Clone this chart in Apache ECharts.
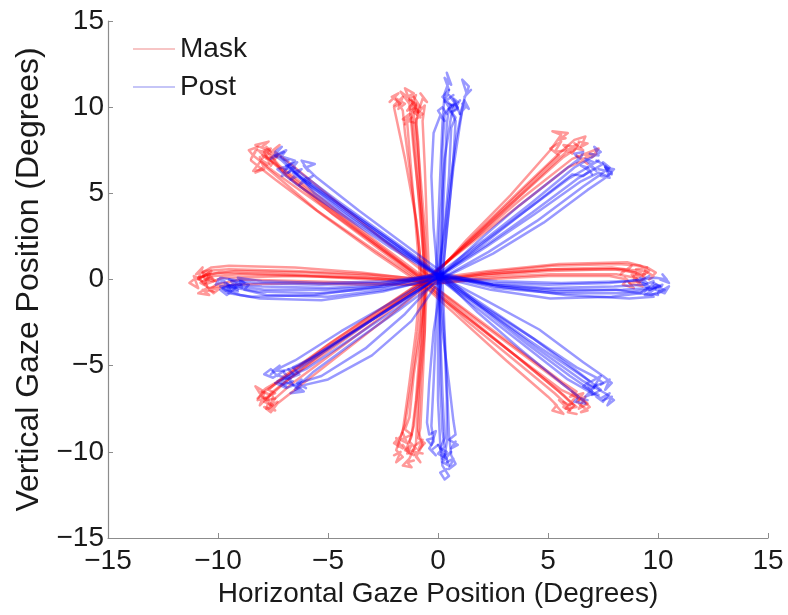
<!DOCTYPE html>
<html>
<head>
<meta charset="utf-8">
<title>Gaze trajectories</title>
<script src="https://cdn.jsdelivr.net/npm/echarts@6/dist/echarts.min.js"></script>
<style>
  html, body { margin: 0; padding: 0; background: #fff; }
  #chart { width: 788px; height: 615px; }
</style>
</head>
<body>
<div id="chart"></div>
<script>
// Axis ticks (degrees)
const xTicks = [-15, -10, -5, 0, 5, 10, 15];
const yTicks = [-15, -10, -5, 0, 5, 10, 15];

// Condition names
const conditions = ['Mask', 'Post'];

// Gaze trajectories, one array per target direction and condition.
// Each trajectory is a list of [horizontal, vertical] gaze positions in degrees:
// the saccade from the centre, then the fixation wander around the target.
const maskUp = [
  [[-0.6,-0.2],[-0.7,2],[-0.9,5],[-1.1,8],[-1.2,9.6],[-1.0,10.1],[-1.4,9.8],[-1.1,10.3],[-1.3,10.0],[-0.9,9.7],[-1.2,10.4]],
  [[-0.5,0],[-0.6,3],[-0.8,6],[-1.0,9],[-0.9,9.9],[-1.3,10.4],[-0.8,10.0],[-1.1,10.6],[-0.9,10.2],[-1.2,9.8]],
  [[-0.7,-0.3],[-0.9,2.5],[-1.2,5.5],[-1.5,8.5],[-1.6,9.8],[-1.9,10.5],[-1.5,10.2],[-1.8,9.9],[-1.6,10.6],[-2.0,10.1]],
  [[-0.4,0.1],[-0.5,3],[-0.6,6.5],[-0.7,9.2],[-0.6,10.1],[-0.9,9.7],[-0.7,10.5],[-0.5,10.3],[-0.8,10.8]],
  [[-0.8,-0.1],[-1.0,3],[-1.2,6],[-1.4,9.1],[-1.2,9.4],[-1.5,9.0],[-1.3,9.6],[-1.6,9.3],[-1.1,9.1]],
  [[-0.6,0.2],[-0.8,4],[-1.1,7.5],[-1.3,10.2],[-1.7,10.9],[-1.4,10.6],[-1.1,10.8],[-1.5,11.1],[-1.3,10.4]],
  [[-0.5,-0.2],[-0.6,2],[-0.8,5],[-0.9,8],[-1.0,9.3],[-0.7,9.6],[-1.0,9.9],[-0.8,9.4],[-1.1,9.7]],
  [[-0.7,0],[-1.0,3.5],[-1.5,7],[-1.9,9.4],[-2.0,10.0],[-1.7,10.2],[-2.1,10.6],[-1.8,10.8],[-2.2,10.3]],
  [[-0.6,-0.1],[-0.7,3],[-0.9,6.5],[-1.1,9.5],[-1.0,10.2],[-1.3,10.5],[-1.0,10.7],[-1.2,10.1]]
];
const postUp = [
  [[0.1,0.2],[0.2,3],[0.3,6],[0.4,9],[0.5,10],[0.3,10.4],[0.6,9.8],[0.4,10.2],[0.7,10.1],[0.5,9.7]],
  [[0,0.3],[0.1,3.5],[0.3,7],[0.6,9.5],[0.8,10.3],[0.5,10.7],[0.9,10.0],[0.7,9.8],[1.0,10.4]],
  [[0.2,0.1],[0.4,3],[0.7,6.5],[1.0,9],[1.1,9.8],[1.3,10.1],[1.0,9.6],[1.2,10.4],[1.4,9.9],[1.1,10.2]],
  [[-0.1,0.2],[0,3],[0.1,6],[0.2,9],[0.3,10.8],[0.5,11.5],[0.4,12.0],[0.6,11.3],[0.3,11.7],[0.5,11.0]],
  [[0.1,0.4],[0.4,4],[0.8,8],[1.2,10.5],[1.4,11.2],[1.1,11.6],[1.3,10.8],[1.5,11.0],[1.2,10.6]],
  [[0,0],[-0.2,3],[-0.3,6],[-0.2,8.5],[0.1,9.5],[0.3,9.2],[0.0,9.8],[0.2,10.0],[0.4,9.6]],
  [[0.2,0.3],[0.5,4],[0.7,7],[0.8,9.2],[0.6,9.7],[0.9,9.9],[0.7,10.5],[0.9,10.3],[0.6,10.1]],
  [[0.1,0.1],[0.2,3.5],[0.2,7.5],[0.3,9.6],[0.6,10.1],[0.2,10.6],[0.5,11.0],[0.3,10.3],[0.7,10.7]],
  [[0,0.2],[0.3,3],[0.5,6],[0.6,8.8],[0.8,9.4],[0.5,9.9],[0.8,10.2],[1.0,9.6]]
];
const maskUpLeft = [
  [[-0.6,-0.2],[-2.5,1.6],[-4.8,3.8],[-7,6.2],[-7.8,7.1],[-8.1,7.4],[-7.6,7.6],[-8.0,7.0],[-7.7,7.3],[-8.2,7.5]],
  [[-0.5,0],[-2.6,2],[-5,4.4],[-7.2,6.6],[-7.9,7.6],[-8.3,7.8],[-7.7,8.0],[-8.0,7.7],[-7.6,7.4]],
  [[-0.7,-0.3],[-2.8,1.5],[-5.2,3.7],[-7.4,5.8],[-8.2,6.6],[-8.5,6.9],[-8.0,6.4],[-8.4,6.3],[-8.1,6.8]],
  [[-0.4,0.2],[-2.4,2.2],[-4.6,4.5],[-6.8,6.8],[-7.5,7.5],[-7.2,7.8],[-7.6,7.3],[-7.3,7.1],[-7.8,7.7]],
  [[-0.6,0],[-2.7,1.9],[-5.1,4.1],[-7.5,6.3],[-8.4,7.2],[-8.6,7.5],[-8.2,7.7],[-8.5,7.0],[-8.3,7.4]],
  [[-0.8,-0.1],[-3,1.8],[-5.5,4],[-7.8,6.5],[-8.0,6.9],[-7.7,6.7],[-8.3,6.2],[-7.9,6.4],[-8.1,7.1]],
  [[-0.5,-0.2],[-2.5,1.7],[-4.7,3.9],[-6.9,6.0],[-7.4,6.8],[-7.8,7.0],[-7.3,7.2],[-7.6,6.6],[-7.9,7.4]],
  [[-0.6,-0.1],[-2.6,1.9],[-4.9,4.1],[-7.1,6.4],[-7.7,7.0],[-8.0,7.2],[-7.5,7.0]]
];
const postUpLeft = [
  [[0.1,0.2],[-2,2],[-4,3.8],[-6,5.6],[-6.6,6.3],[-6.9,6.6],[-6.4,6.8],[-6.8,6.2],[-6.5,6.5],[-7.0,6.4]],
  [[0,0.3],[-2.2,2.3],[-4.4,4.3],[-6.5,6.2],[-7.1,6.9],[-7.4,7.2],[-6.9,7.5],[-7.2,7.0],[-6.8,6.9]],
  [[0.2,0.1],[-1.8,1.7],[-3.8,3.4],[-5.6,5.0],[-6.1,5.7],[-5.7,6.0],[-6.3,5.5],[-6.0,5.9],[-5.8,5.6]],
  [[0.1,0.3],[-2.3,2.5],[-4.6,4.6],[-6.8,6.7],[-7.4,7.4],[-7.1,7.7],[-7.6,7.0],[-7.3,7.2],[-7.0,7.4]],
  [[0,0.2],[-1.9,1.8],[-3.9,3.6],[-5.8,5.4],[-6.4,6.0],[-6.7,5.8],[-6.2,6.4],[-6.6,6.2],[-6.3,5.9]],
  [[0.2,0.4],[-1.7,2.2],[-3.6,4.0],[-5.5,5.9],[-6.0,6.5],[-5.6,6.7],[-6.2,6.9],[-5.9,6.3],[-6.1,6.6]],
  [[0.1,0.1],[-2.1,1.8],[-4.3,3.7],[-6.4,5.5],[-7.0,6.1],[-7.3,6.4],[-6.8,6.6],[-7.1,6.0],[-6.7,6.3]],
  [[0,0.2],[-2.0,2.1],[-4.1,4.0],[-6.2,5.9],[-6.8,6.6],[-6.5,6.9],[-7.0,7.1]]
];
const maskLeft = [
  [[-0.6,-0.2],[-3,0],[-6,0.2],[-9,0.3],[-10.2,0.2],[-10.6,-0.2],[-10.3,0.5],[-10.8,0.1],[-10.5,0.3],[-10.1,-0.1]],
  [[-0.5,0],[-3.2,0.3],[-6.5,0.5],[-9.5,0.6],[-10.6,0.5],[-11.0,0.3],[-10.7,0.7],[-10.9,0.0],[-10.4,0.4]],
  [[-0.7,-0.3],[-3,-0.2],[-6,-0.1],[-9,0],[-10.1,-0.3],[-10.4,-0.6],[-9.9,-0.5],[-10.2,-0.8],[-10.5,-0.4]],
  [[-0.6,-0.1],[-3.5,0.1],[-7,0.3],[-10,0.4],[-11.0,0.1],[-11.3,-0.2],[-10.9,-0.5],[-11.1,0.2],[-10.7,-0.1]],
  [[-0.5,-0.2],[-3,0.2],[-6,0.4],[-9.2,0.5],[-10.4,0.3],[-10.2,-0.1],[-10.6,0],[-10.3,0.2],[-10.7,0.4]],
  [[-0.8,0],[-3.5,0.4],[-6.5,0.7],[-9.5,0.8],[-10.3,0.7],[-10.7,0.4],[-10.5,-0.4],[-10.8,-0.2],[-10.4,0.1]],
  [[-0.6,-0.3],[-3.2,-0.3],[-6.3,-0.2],[-9.4,-0.3],[-10.5,-0.5],[-10.9,-0.8],[-10.4,-0.9],[-10.7,-0.6],[-10.2,-0.7]],
  [[-0.7,-0.1],[-3.3,0.1],[-6.6,0.2],[-9.8,0.1],[-10.6,-0.3],[-10.9,0.1],[-10.5,0.2]]
];
const postLeft = [
  [[0.1,0.2],[-2.5,-0.3],[-5,-0.5],[-8,-0.4],[-9.0,-0.3],[-9.4,-0.1],[-9.1,-0.6],[-9.6,-0.4],[-9.3,-0.3],[-9.8,-0.5]],
  [[0,0.3],[-2.5,-0.5],[-5.5,-0.8],[-8.2,-0.7],[-9.2,-0.5],[-9.7,-0.2],[-9.4,-0.7],[-9.9,-0.4],[-9.5,-0.3]],
  [[0.2,0.1],[-2.4,-0.6],[-5,-1.0],[-7.8,-0.9],[-8.8,-0.6],[-8.6,-0.3],[-9.0,-0.1],[-8.9,-0.5],[-9.2,-0.3]],
  [[0,0.2],[-2.6,-0.2],[-5.4,-0.3],[-8.3,-0.2],[-9.4,0],[-9.9,0.1],[-10.1,-0.3],[-9.7,-0.1],[-10.0,0.0]],
  [[0.1,0.4],[-2.7,-0.4],[-5.6,-0.9],[-8.5,-1.0],[-9.5,-0.8],[-9.8,-0.5],[-9.3,-0.3],[-9.6,-0.6],[-9.1,-0.7]],
  [[0.2,0.3],[-2.3,-0.1],[-5.2,-0.2],[-8.0,-0.1],[-9.1,0.1],[-8.8,-0.2],[-9.3,-0.4],[-9.0,-0.2],[-9.5,0.0]],
  [[0,0.1],[-2.5,-0.7],[-5.3,-1.2],[-8.1,-1.1],[-9.0,-0.9],[-9.5,-0.7],[-9.9,-0.6],[-9.6,-0.9],[-9.2,-0.5]],
  [[0.1,0.2],[-2.4,-0.4],[-5.1,-0.6],[-7.9,-0.6],[-9.0,-0.4],[-9.4,-0.5],[-9.6,-0.2]]
];
const maskDownLeft = [
  [[-0.6,-0.2],[-2.5,-1.9],[-4.6,-3.8],[-6.8,-5.8],[-7.6,-6.7],[-7.9,-7.1],[-7.5,-7.3],[-8.0,-6.8],[-7.7,-7.0],[-7.8,-7.5]],
  [[-0.5,-0.1],[-2.4,-2.0],[-4.5,-4.0],[-6.6,-6.0],[-7.4,-6.9],[-7.7,-7.5],[-7.3,-7.1],[-7.6,-7.3],[-7.5,-6.8]],
  [[-0.7,-0.3],[-2.7,-2.0],[-4.9,-3.9],[-7.0,-5.7],[-7.8,-6.3],[-8.1,-6.6],[-8.3,-6.2],[-7.9,-6.5],[-8.2,-6.9]],
  [[-0.6,0],[-2.6,-1.7],[-4.8,-3.6],[-7.0,-5.6],[-7.7,-6.4],[-7.4,-6.6],[-7.9,-6.9],[-7.6,-6.7],[-8.0,-6.5]],
  [[-0.5,-0.3],[-2.3,-2.2],[-4.3,-4.2],[-6.4,-6.3],[-7.3,-7.2],[-7.6,-7.7],[-7.9,-7.4],[-7.4,-7.6],[-7.7,-7.2]],
  [[-0.8,-0.2],[-2.8,-1.9],[-5.0,-3.8],[-7.2,-5.9],[-8.0,-6.6],[-8.2,-7.0],[-7.8,-6.9],[-8.1,-7.3],[-7.9,-6.6]],
  [[-0.6,-0.1],[-2.5,-1.8],[-4.7,-3.7],[-6.9,-5.9],[-7.6,-6.6],[-7.8,-7.0],[-7.4,-6.9]]
];
const postDownLeft = [
  [[0.1,0.2],[-2,-1.5],[-4,-3.2],[-6,-4.9],[-6.8,-5.6],[-7.1,-5.9],[-6.6,-6.1],[-7.0,-5.4],[-6.7,-5.8],[-7.2,-5.6]],
  [[0,0.3],[-2.2,-1.4],[-4.4,-3.0],[-6.5,-4.7],[-7.3,-5.2],[-7.6,-5.5],[-7.2,-5.0],[-7.5,-5.3],[-7.0,-5.3]],
  [[0.2,0.1],[-1.8,-1.8],[-3.8,-3.6],[-5.7,-5.4],[-6.4,-6.2],[-6.1,-6.5],[-6.7,-6.6],[-6.3,-6.4],[-6.6,-6.1]],
  [[0.1,0.2],[-1.5,-2.0],[-3.3,-4.0],[-5.3,-5.6],[-6.3,-6.0],[-6.9,-6.3],[-7.4,-6.0],[-7.0,-6.1],[-6.6,-5.9]],
  [[0,0.1],[-2.1,-1.6],[-4.2,-3.3],[-6.3,-5.0],[-7.0,-5.3],[-7.5,-5.7],[-7.9,-5.5],[-7.6,-5.2],[-7.3,-5.6]],
  [[0.2,0.3],[-1.7,-1.3],[-3.7,-2.9],[-5.8,-4.6],[-6.6,-5.1],[-6.3,-5.5],[-6.9,-5.8],[-6.5,-5.6],[-6.8,-5.2]],
  [[0.1,0],[-1.2,-2.4],[-3.0,-4.4],[-5.0,-5.8],[-6.0,-6.1],[-6.5,-6.4],[-6.2,-5.8],[-6.4,-6.0],[-6.0,-6.3]],
  [[0,0.2],[-1.9,-1.7],[-3.9,-3.4],[-6.0,-5.2],[-6.9,-5.7],[-7.3,-5.9],[-6.9,-6.2]]
];
const maskDown = [
  [[-0.6,-0.2],[-0.7,-3],[-0.9,-6],[-1.1,-8.5],[-1.3,-9.4],[-1.0,-9.8],[-1.4,-10.1],[-1.2,-9.6],[-1.5,-9.9],[-1.1,-10.2]],
  [[-0.5,-0.1],[-0.6,-3],[-0.8,-6],[-0.9,-8.8],[-0.7,-9.6],[-1.0,-10.3],[-0.8,-10.6],[-1.1,-10.0],[-0.7,-10.1]],
  [[-0.7,-0.3],[-0.9,-3],[-1.2,-6],[-1.5,-8.4],[-1.7,-9.1],[-2.0,-9.5],[-1.6,-9.8],[-1.9,-9.2],[-1.8,-9.7]],
  [[-0.6,0],[-0.7,-3.5],[-0.9,-7],[-1.0,-9.5],[-1.3,-10.4],[-1.6,-10.8],[-1.2,-10.9],[-1.4,-10.6],[-1.1,-10.5]],
  [[-0.5,-0.3],[-0.8,-3],[-1.1,-5.5],[-1.3,-8],[-1.5,-8.7],[-1.2,-9.0],[-1.7,-9.3],[-1.4,-9.5],[-1.6,-8.9]],
  [[-0.8,-0.2],[-1.0,-3],[-1.3,-6],[-1.6,-8.8],[-1.9,-9.9],[-1.6,-10.3],[-1.9,-10.6],[-1.7,-10.0],[-2.0,-10.2]],
  [[-0.6,-0.1],[-0.6,-3],[-0.7,-6],[-0.8,-8.6],[-0.9,-9.2],[-0.6,-9.5],[-0.9,-9.9],[-0.7,-9.3],[-1.0,-9.6]],
  [[-0.7,-0.2],[-0.8,-3.5],[-1.0,-7],[-1.2,-9.1],[-1.4,-9.7],[-1.3,-10.1],[-1.6,-9.6]]
];
const postDown = [
  [[0.1,0.2],[0.1,-3],[0.1,-6],[0.2,-8.8],[0.3,-9.7],[0.0,-10.1],[0.4,-10.4],[0.1,-9.9],[0.3,-10.2],[0.0,-9.6]],
  [[0,0.3],[-0.1,-3],[-0.2,-6],[-0.3,-8.5],[-0.2,-9.4],[-0.4,-9.8],[-0.1,-10.2],[-0.3,-9.9],[0.0,-9.6]],
  [[0.2,0.1],[0.3,-3],[0.4,-6],[0.5,-9],[0.6,-10.2],[0.8,-10.7],[0.5,-11.0],[0.7,-10.4],[0.4,-10.6]],
  [[0.1,0.2],[0.0,-3.5],[0.0,-7],[0.1,-9.5],[0.2,-10.8],[0.5,-11.4],[0.3,-11.6],[0.1,-11.2],[0.4,-11.0]],
  [[0,0.1],[0.2,-3],[0.5,-6],[0.7,-8.2],[0.8,-9.0],[0.5,-9.3],[0.9,-9.6],[0.6,-9.8],[0.8,-9.4]],
  [[0.2,0.3],[-0.2,-3],[-0.4,-6],[-0.5,-8.3],[-0.4,-9.0],[-0.1,-8.8],[-0.3,-9.6],[-0.5,-9.3],[-0.2,-9.2]],
  [[0.1,0],[0.3,-3.5],[0.4,-7],[0.4,-9.4],[0.3,-10.3],[0.6,-10.0],[0.2,-10.6],[0.5,-10.8],[0.3,-10.1]],
  [[0,0.2],[0.1,-3],[0.2,-6.5],[0.3,-9.2],[0.1,-9.8],[0.4,-10.0],[0.2,-10.4]]
];
const maskDownRight = [
  [[-0.6,-0.2],[1.4,-2.3],[3.5,-4.4],[5.5,-6.5],[6.0,-7.1],[6.3,-7.4],[5.8,-7.5],[6.2,-6.9],[6.0,-7.3],[5.7,-7.1]],
  [[-0.5,-0.1],[1.6,-2.2],[3.8,-4.3],[5.9,-6.3],[6.5,-6.9],[6.8,-7.2],[6.4,-7.5],[6.7,-6.8],[6.3,-7.1]],
  [[-0.7,-0.3],[1.2,-2.5],[3.1,-4.7],[5.0,-6.8],[5.4,-7.3],[5.2,-7.6],[5.7,-7.8],[5.5,-7.5],[5.3,-7.2]],
  [[-0.6,0],[1.5,-2.0],[3.6,-4.0],[5.7,-6.0],[6.3,-6.5],[6.0,-6.8],[6.6,-6.6],[6.4,-7.0],[6.1,-6.5]],
  [[-0.5,-0.3],[1.3,-2.4],[3.3,-4.5],[5.3,-6.6],[5.8,-7.2],[5.5,-7.0],[6.0,-7.6],[5.7,-7.4],[6.1,-7.2]],
  [[-0.8,-0.2],[1.3,-2.2],[3.4,-4.3],[5.6,-6.4],[6.6,-7.0],[6.9,-7.4],[6.5,-7.7],[6.8,-7.6],[6.4,-7.2]],
  [[-0.6,-0.1],[1.5,-2.3],[3.6,-4.5],[5.7,-6.7],[6.2,-7.3],[5.9,-7.7],[6.3,-7.8]]
];
const postDownRight = [
  [[0.1,0.2],[2,-1.7],[4,-3.7],[6,-5.6],[6.8,-6.3],[7.1,-6.6],[6.7,-6.8],[7.2,-6.1],[6.9,-6.5],[7.3,-6.7]],
  [[0,0.3],[2.1,-1.5],[4.2,-3.3],[6.3,-5.1],[7.2,-5.7],[7.5,-6.0],[7.1,-6.2],[7.4,-5.6],[7.0,-5.9]],
  [[0.2,0.1],[1.8,-1.9],[3.7,-4.0],[5.6,-6.0],[6.4,-6.8],[6.2,-7.1],[6.7,-7.2],[6.5,-6.9],[6.8,-7.0]],
  [[0.1,0.2],[2.3,-1.3],[4.6,-2.9],[6.6,-4.8],[7.5,-5.6],[7.9,-6.0],[7.6,-6.4],[7.8,-5.8],[7.4,-6.1]],
  [[0,0.1],[1.9,-1.8],[3.9,-3.8],[5.9,-5.8],[7.0,-6.6],[7.4,-6.9],[7.8,-6.6],[7.5,-7.1],[7.2,-6.8]],
  [[0.2,0.3],[2.0,-1.6],[4.1,-3.5],[6.2,-5.3],[6.9,-5.9],[6.6,-6.2],[7.0,-6.5],[6.8,-6.1],[7.1,-6.3]],
  [[0.1,0],[2.2,-1.8],[4.4,-3.9],[6.6,-5.9],[7.6,-6.6],[8.0,-7.0],[7.7,-7.3],[7.9,-6.8],[7.5,-7.0]],
  [[0,0.2],[2.1,-1.6],[4.3,-3.4],[6.4,-5.4],[7.1,-6.1],[7.4,-6.4],[7.0,-6.7]]
];
const maskRight = [
  [[-0.6,-0.2],[2,0.2],[5,0.5],[8,0.6],[9.0,0.4],[9.4,0.1],[9.1,-0.2],[8.8,0.3],[9.2,0.2],[8.9,0.0]],
  [[-0.5,-0.1],[2.2,0.4],[5.2,0.8],[8.2,0.9],[9.2,0.8],[9.6,0.5],[9.3,0.2],[9.5,0.7],[9.0,0.6]],
  [[-0.7,-0.3],[2,0],[5,0.2],[7.8,0.2],[8.6,0.0],[8.4,-0.3],[8.9,-0.5],[8.7,-0.2],[8.5,0.1]],
  [[-0.6,0],[2.3,0.5],[5.5,0.9],[8.6,1.0],[9.5,0.7],[9.9,0.4],[9.6,0.0],[9.8,0.2],[9.4,0.5]],
  [[-0.5,-0.3],[2.1,0.1],[5.1,0.3],[8.1,0.3],[9.0,0.1],[9.3,-0.4],[8.7,-0.2],[9.1,-0.1],[8.9,0.2]],
  [[-0.8,-0.2],[2.0,0.3],[5.0,0.6],[7.9,0.7],[8.5,0.6],[8.3,0.3],[8.8,0.8],[8.6,0.5],[9.0,0.4]],
  [[-0.6,-0.1],[2.1,0.3],[5.3,0.6],[8.4,0.6],[9.3,0.5],[9.0,0.3],[9.4,0.3]]
];
const postRight = [
  [[0.1,0.2],[2.5,-0.3],[5,-0.5],[8,-0.4],[9.4,-0.3],[9.8,-0.1],[9.6,-0.6],[10.1,-0.4],[9.9,-0.3],[9.5,-0.5]],
  [[0,0.3],[2.6,-0.5],[5.4,-0.8],[8.3,-0.8],[9.6,-0.6],[10.2,-0.3],[10.0,-0.8],[10.3,-0.6],[9.8,-0.4]],
  [[0.2,0.1],[2.4,-0.6],[5.1,-1.1],[7.9,-1.0],[9.2,-0.8],[9.5,-0.5],[9.3,-0.2],[9.6,-0.4],[9.4,-0.7]],
  [[0,0.2],[2.7,-0.1],[5.6,-0.2],[8.6,-0.1],[9.9,0.1],[10.4,0.0],[10.2,0.3],[10.5,-0.2],[10.1,0.0]],
  [[0.1,0.4],[2.5,-0.3],[5.3,-0.6],[8.1,-0.6],[9.7,-0.9],[10.1,-0.7],[10.5,-0.4],[10.3,-0.8],[9.9,-0.6]],
  [[0.2,0.3],[2.8,-0.4],[5.8,-0.9],[8.7,-1.1],[9.8,-1.0],[9.4,-0.9],[9.9,-0.5],[9.6,-0.8],[10.0,-0.9]],
  [[0,0.1],[2.4,-0.2],[5.0,-0.3],[7.8,-0.2],[9.3,0.0],[9.6,0.2],[9.1,-0.1],[9.5,-0.2],[9.2,0.1]],
  [[0.1,0.2],[2.6,-0.4],[5.4,-0.7],[8.4,-0.6],[9.7,-0.5],[10.1,-0.4],[9.8,-0.2]]
];
const maskUpRight = [
  [[-0.6,-0.2],[1.4,2.2],[3.5,4.6],[5.4,6.9],[6.0,7.6],[6.4,7.9],[6.1,7.3],[5.7,7.8],[6.2,7.7],[5.9,7.4]],
  [[-0.5,-0.1],[1.5,2.4],[3.6,5.0],[5.5,7.3],[6.2,8.1],[6.7,8.3],[6.5,7.7],[6.8,7.9],[6.4,8.0]],
  [[-0.7,-0.3],[1.2,2.0],[3.2,4.4],[5.0,6.6],[5.5,7.2],[5.1,7.6],[5.6,8.0],[5.3,7.4],[5.8,7.5]],
  [[-0.6,0],[1.6,2.3],[3.9,4.8],[6.1,7.0],[6.9,7.4],[7.3,7.6],[7.0,7.1],[7.2,7.3],[6.7,7.2]],
  [[-0.5,-0.3],[1.3,2.3],[3.3,4.9],[5.1,7.5],[5.6,8.4],[5.2,8.6],[5.9,8.5],[5.5,8.1],[5.8,8.2]],
  [[-0.8,-0.2],[1.4,2.0],[3.7,4.3],[5.9,6.5],[6.6,6.9],[6.3,7.2],[6.8,6.7],[6.5,7.0],[6.9,7.1]],
  [[-0.6,-0.1],[1.5,2.2],[3.6,4.7],[5.7,7.1],[6.3,7.6],[6.6,7.5],[6.2,7.9]]
];
const postUpRight = [
  [[0.1,0.2],[2,2],[4,4],[6,5.9],[6.8,6.5],[7.1,6.8],[6.7,7.0],[7.2,6.3],[6.9,6.6],[7.3,6.9]],
  [[0,0.3],[2.1,2.3],[4.2,4.4],[6.2,6.5],[7.0,7.1],[7.4,7.4],[7.1,7.7],[7.3,7.2],[6.9,7.3]],
  [[0.2,0.1],[2.3,1.6],[4.5,3.4],[6.6,5.4],[7.4,6.1],[7.8,6.5],[7.5,6.8],[7.7,6.3],[7.3,6.4]],
  [[0.1,0.2],[1.8,2.2],[3.7,4.3],[5.7,6.3],[6.4,7.0],[6.2,7.3],[6.6,7.4],[6.5,7.1],[6.3,6.8]],
  [[0,0.1],[2.2,1.9],[4.4,3.8],[6.5,5.7],[7.3,6.2],[7.7,6.0],[8.0,6.4],[7.6,6.5],[7.9,6.1]],
  [[0.2,0.3],[2.0,2.1],[4.1,4.1],[6.1,6.1],[6.6,6.0],[6.9,6.3],[6.5,6.6],[6.8,6.5],[7.0,6.1]],
  [[0.1,0],[2.5,1.5],[4.8,3.3],[6.8,5.2],[7.5,5.8],[7.9,6.2],[7.6,6.6],[7.8,5.9],[7.4,6.0]],
  [[0,0.2],[2.2,2.0],[4.3,3.9],[6.4,5.9],[7.1,6.4],[7.5,6.7],[7.2,6.9]]
];

const maskGroups = [maskUp, maskUpLeft, maskLeft, maskDownLeft, maskDown, maskDownRight, maskRight, maskUpRight];
const postGroups = [postUp, postUpLeft, postLeft, postDownLeft, postDown, postDownRight, postRight, postUpRight];

const maskColor = 'rgba(255,0,0,0.4)';
const postColor = 'rgba(0,0,255,0.4)';

function traceSeries(name, groups, color) {
  const out = [];
  groups.forEach(function (group) {
    group.forEach(function (trace) {
      out.push({
        name: name,
        type: 'line',
        data: trace,
        showSymbol: false,
        symbol: 'none',
        smooth: false,
        silent: true,
        color: color,
        lineStyle: { color: color, width: 2.5, join: 'round', cap: 'round' },
        z: 2
      });
    });
  });
  return out;
}

const textColor = '#1a1a1a';
const axisColor = '#8c8c8c';
const fontFamily = '"Liberation Sans", Arial, Helvetica, sans-serif';
const minus = function (v) { return String(v).replace('-', '\u2212'); };

const chart = echarts.init(document.getElementById('chart'), null, { renderer: 'canvas' });
chart.setOption({
  animation: false,
  backgroundColor: '#ffffff',
  grid: { left: 108, right: 20, top: 21, bottom: 77, containLabel: false },
  legend: {
    orient: 'vertical',
    left: 128,
    top: 29,
    itemWidth: 42,
    itemHeight: 2,
    itemGap: 8,
    icon: 'rect',
    textStyle: { fontSize: 28, color: textColor, fontFamily: fontFamily, lineHeight: 30 },
    data: [
      { name: conditions[0], itemStyle: { color: 'rgba(240,140,140,0.5)' } },
      { name: conditions[1], itemStyle: { color: 'rgba(140,140,240,0.5)' } }
    ],
    selectedMode: false
  },
  xAxis: {
    type: 'value',
    min: xTicks[0],
    max: xTicks[xTicks.length - 1],
    interval: 5,
    name: 'Horizontal Gaze Position (Degrees)',
    nameLocation: 'middle',
    nameGap: 40,
    nameTextStyle: { fontSize: 28, color: textColor, fontFamily: fontFamily },
    axisLine: { show: true, onZero: false, lineStyle: { color: axisColor, width: 1.2 } },
    axisTick: { show: true, inside: true, length: 5, lineStyle: { color: axisColor } },
    axisLabel: { fontSize: 28, color: textColor, fontFamily: fontFamily, margin: 9, formatter: minus },
    splitLine: { show: false }
  },
  yAxis: {
    type: 'value',
    min: yTicks[0],
    max: yTicks[yTicks.length - 1],
    interval: 5,
    name: 'Vertical Gaze Position (Degrees)',
    nameLocation: 'middle',
    nameGap: 48,
    nameTextStyle: { fontSize: 32, color: textColor, fontFamily: fontFamily },
    axisLine: { show: true, onZero: false, lineStyle: { color: axisColor, width: 1.2 } },
    axisTick: { show: true, inside: true, length: 5, lineStyle: { color: axisColor } },
    axisLabel: { fontSize: 28, color: textColor, fontFamily: fontFamily, margin: 4, formatter: minus },
    splitLine: { show: false }
  },
  series: traceSeries(conditions[0], maskGroups, maskColor)
    .concat(traceSeries(conditions[1], postGroups, postColor))
});
</script>
</body>
</html>
